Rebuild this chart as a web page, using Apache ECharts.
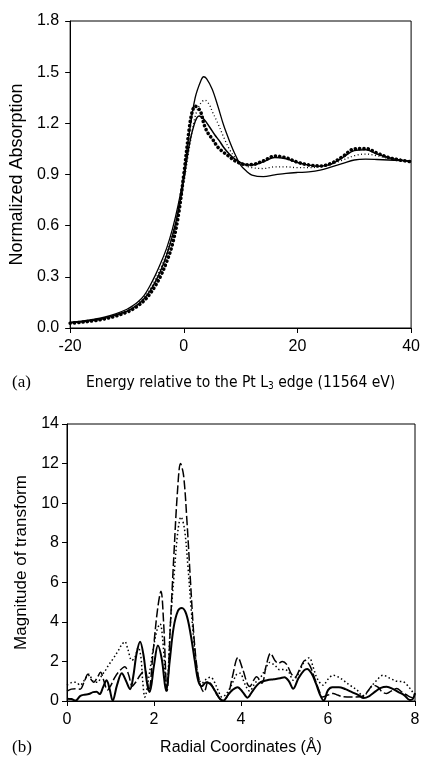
<!DOCTYPE html>
<html>
<head>
<meta charset="utf-8">
<script src="https://cdn.jsdelivr.net/npm/echarts@6/dist/echarts.min.js"></script>
<style>
  html, body { margin: 0; padding: 0; background: #fff; }
  #chart { width: 423px; height: 760px; }
</style>
</head>
<body>
<div id="chart"></div>
<script>
// panel (a): XANES, [energy eV, normalized absorption]
var energyTicks = [-20, 0, 20, 40];
var absTicks = [0, 0.3, 0.6, 0.9, 1.2, 1.5, 1.8];

var xanesSolid = [[-20,0.035],[-18,0.04],[-16,0.05],[-14,0.063],[-12,0.083],[-10,0.11],[-9,0.13],[-8,0.155],
  [-7,0.19],[-6,0.245],[-5,0.31],[-4,0.385],[-3,0.47],[-2,0.58],[-1,0.72],[0,0.90],[1,1.15],[2,1.35],[3,1.45],
  [3.5,1.473],[4,1.462],[5,1.40],[6,1.30],[7,1.19],[8,1.10],[9,1.02],[10,0.955],[11,0.92],[12,0.897],[14,0.888],
  [16,0.898],[18,0.907],[20,0.912],[22,0.915],[24,0.925],[26,0.945],[28,0.965],[30,0.985],[32,0.99],[34,0.988],
  [36,0.985],[38,0.982],[40,0.98]];

var xanesDotted = [[-20,0.03],[-18,0.037],[-16,0.046],[-14,0.058],[-12,0.077],[-10,0.1],[-9,0.12],[-8,0.145],
  [-7,0.178],[-6,0.225],[-5,0.285],[-4,0.355],[-3,0.44],[-2,0.545],[-1,0.68],[0,0.85],[1,1.06],[2,1.24],[3,1.32],
  [3.7,1.336],[4.5,1.31],[5,1.27],[6,1.20],[7,1.12],[8,1.05],[9,1.0],[10,0.97],[11,0.95],[12,0.94],[14,0.935],
  [16,0.945],[18,0.945],[20,0.94],[22,0.94],[24,0.945],[26,0.96],[28,0.985],[30,1.01],[32,1.02],[34,1.01],
  [36,0.995],[38,0.985],[40,0.98]];

var xanesThin = [[-20,0.03],[-18,0.036],[-16,0.045],[-14,0.056],[-12,0.075],[-10,0.098],[-9,0.117],[-8,0.14],
  [-7,0.172],[-6,0.215],[-5,0.272],[-4,0.342],[-3,0.43],[-2,0.54],[-1,0.68],[0,0.87],[1,1.08],[2,1.21],[2.7,1.243],
  [3.5,1.225],[4.5,1.18],[5.5,1.13],[6.2,1.10],[7,1.06],[8,1.02],[9,0.99],[10,0.97],[11,0.958],[12,0.955],
  [14,0.975],[16,1.0],[18,0.992],[20,0.97],[22,0.955],[24,0.948],[26,0.962],[28,1.0],[30,1.04],[32,1.045],
  [34,1.02],[36,1.0],[38,0.985],[40,0.975]];

var xanesDots = [[-20,0.028],[-18,0.034],[-16,0.042],[-14,0.053],[-12,0.07],[-10,0.093],[-9,0.11],[-8,0.132],
  [-7,0.16],[-6,0.198],[-5,0.248],[-4,0.31],[-3,0.39],[-2,0.49],[-1,0.65],[0,0.9],[1,1.18],[1.5,1.27],[2,1.30],
  [2.5,1.29],[3,1.265],[3.6,1.19],[4.3,1.14],[5,1.11],[6,1.06],[7,1.03],[8,1.005],[9,0.98],[10,0.965],[11,0.957],
  [12,0.958],[14,0.98],[16,1.008],[18,0.998],[20,0.972],[22,0.956],[24,0.95],[26,0.966],[28,1.006],[30,1.05],
  [32,1.052],[34,1.026],[36,1.0],[38,0.985],[40,0.975]];

// panel (b): Fourier transform magnitude, [R Å, magnitude]
var radialTicks = [0, 2, 4, 6, 8];
var magTicks = [0, 2, 4, 6, 8, 10, 12, 14];

var ftDashed = [[0,0.5],[0.1,0.6],[0.2,0.62],[0.3,0.6],[0.4,1.0],[0.48,1.35],[0.55,1.1],[0.61,0.95],[0.7,1.2],
  [0.77,1.45],[0.85,1.0],[0.93,0.55],[1.0,0.75],[1.1,1.2],[1.2,1.5],[1.33,1.73],[1.42,1.3],[1.5,0.75],[1.58,0.95],
  [1.68,1.3],[1.79,1.57],[1.88,0.5],[1.98,2.5],[2.08,4.6],[2.16,5.55],[2.22,4.0],[2.3,0.5],[2.38,4.0],[2.46,7.5],
  [2.54,10.6],[2.61,12.0],[2.68,11.4],[2.76,9.0],[2.84,6.0],[2.92,3.2],[3.0,1.5],[3.08,0.7],[3.15,0.45],[3.25,1.0],
  [3.33,0.8],[3.45,0.3],[3.58,0.02],[3.7,0.3],[3.8,1.2],[3.93,2.2],[4.04,1.6],[4.2,0.73],[4.36,1.23],[4.48,0.9],
  [4.58,1.8],[4.68,2.41],[4.78,2.05],[4.86,1.9],[4.95,2.0],[5.05,1.85],[5.15,1.4],[5.24,1.2],[5.35,1.6],[5.47,2.05],
  [5.58,1.8],[5.7,1.1],[5.8,0.5],[5.87,0.2],[6.0,0.3],[6.12,0.38],[6.22,0.3],[6.35,0.21],[6.55,0.2],[6.74,0.21],
  [6.9,0.45],[7.04,0.8],[7.15,0.7],[7.25,0.45],[7.35,0.38],[7.45,0.5],[7.58,0.63],[7.7,0.45],[7.85,0.25],
  [7.97,0.13],[8.0,0.1]];

var ftDotted = [[0,0.8],[0.1,0.93],[0.2,0.95],[0.3,0.8],[0.4,1.05],[0.5,1.35],[0.6,1.0],[0.7,0.95],[0.8,1.3],
  [0.9,1.6],[0.95,1.8],[1.05,2.1],[1.18,2.55],[1.26,2.85],[1.33,3.0],[1.4,2.6],[1.49,2.05],[1.56,2.2],[1.64,2.7],
  [1.7,2.2],[1.74,1.0],[1.79,0.2],[1.88,1.2],[1.98,2.6],[2.07,3.6],[2.14,3.9],[2.2,3.1],[2.29,0.6],[2.38,4.0],
  [2.47,6.6],[2.55,8.6],[2.62,9.3],[2.7,8.7],[2.78,6.8],[2.86,4.5],[2.94,2.5],[3.02,1.2],[3.1,0.9],[3.2,1.1],
  [3.3,1.2],[3.38,1.0],[3.48,0.5],[3.56,0.2],[3.66,0.35],[3.78,0.8],[3.9,1.35],[3.98,1.4],[4.08,0.9],[4.2,0.5],
  [4.32,0.9],[4.45,1.2],[4.56,1.6],[4.66,1.95],[4.78,1.8],[4.89,1.58],[5.0,1.6],[5.1,1.45],[5.2,1.05],[5.3,1.3],
  [5.42,1.85],[5.5,2.1],[5.57,2.19],[5.66,1.7],[5.76,1.1],[5.89,0.8],[6.0,1.1],[6.12,1.3],[6.25,1.2],[6.35,1.05],
  [6.5,0.8],[6.66,0.57],[6.81,0.24],[6.95,0.6],[7.1,1.0],[7.27,1.3],[7.42,1.15],[7.58,1.0],[7.73,0.97],
  [7.86,0.7],[7.97,0.38],[8.0,0.3]];

var ftSolid = [[0,0.12],[0.1,0.1],[0.2,0.02],[0.3,0.25],[0.4,0.32],[0.5,0.35],[0.6,0.45],[0.68,0.47],[0.75,0.35],
  [0.83,0.7],[0.91,1.05],[0.98,0.6],[1.05,0.02],[1.15,0.8],[1.26,1.4],[1.35,1.05],[1.45,0.6],[1.52,1.2],[1.6,2.4],
  [1.68,3.0],[1.76,2.3],[1.84,0.9],[1.9,0.45],[2.0,1.8],[2.09,2.8],[2.18,2.1],[2.28,0.5],[2.36,2.0],[2.45,3.7],
  [2.55,4.55],[2.64,4.7],[2.74,4.4],[2.84,3.4],[2.94,2.0],[3.02,1.0],[3.1,0.75],[3.2,0.95],[3.3,0.85],[3.42,0.45],
  [3.52,0.1],[3.6,0.02],[3.7,0.3],[3.8,0.55],[3.92,0.7],[4.04,0.45],[4.15,0.17],[4.25,0.45],[4.35,0.75],
  [4.45,0.95],[4.6,1.05],[4.75,1.1],[4.9,1.15],[5.0,1.2],[5.1,1.0],[5.2,0.62],[5.32,1.15],[5.45,1.55],[5.52,1.62],
  [5.62,1.4],[5.72,0.9],[5.82,0.3],[5.9,0.02],[6.0,0.55],[6.1,0.7],[6.25,0.7],[6.4,0.6],[6.55,0.45],[6.7,0.3],
  [6.82,0.15],[6.95,0.25],[7.1,0.5],[7.2,0.65],[7.35,0.72],[7.5,0.6],[7.62,0.45],[7.75,0.3],[7.88,0.05],
  [7.95,0.1],[8.0,0.4]];

var FONT = '"Liberation Sans", Arial, sans-serif';
var NARROW = '"Liberation Sans Narrow", "DejaVu Sans Condensed", sans-serif';

function valueAxis(gridIndex, ticks, opts) {
  var ax = {
    type: 'value',
    gridIndex: gridIndex,
    min: ticks[0],
    max: ticks[ticks.length - 1],
    interval: ticks[1] - ticks[0],
    axisLine: { show: true, onZero: false, lineStyle: { color: '#000', width: 1 } },
    axisTick: { show: true, inside: false, length: 5, lineStyle: { color: '#000', width: 1 } },
    splitLine: { show: false },
    axisLabel: { color: '#000', fontSize: 16, fontFamily: FONT, margin: 11 }
  };
  for (var k in opts) ax[k] = opts[k];
  return ax;
}

function line(name, data, xi, width, type, cap) {
  return {
    name: name,
    type: 'line',
    xAxisIndex: xi,
    yAxisIndex: xi,
    data: data,
    smooth: 0.35,
    showSymbol: false,
    symbol: 'none',
    lineStyle: { color: '#000', width: width, type: type, cap: cap || 'butt' },
    emphasis: { disabled: true }
  };
}

var myChart = echarts.init(document.getElementById('chart'));

var option = {
  animation: false,
  backgroundColor: '#fff',
  grid: [
    { left: 65, top: 21, right: 11, height: 307, show: true, borderColor: '#000', borderWidth: 1 },
    { left: 67, top: 424, right: 8, height: 277, show: true, borderColor: '#000', borderWidth: 1 }
  ],
  xAxis: [
    valueAxis(0, energyTicks, {
      name: 'Energy relative to the Pt L{sub|3} edge (11564 eV)',
      nameLocation: 'middle',
      nameGap: 46,
      nameTextStyle: {
        color: '#000', fontSize: 15.5, fontFamily: NARROW,
        rich: { sub: { fontSize: 10, padding: [7, 0, 0, 0], fontFamily: NARROW } }
      }
    }),
    valueAxis(1, radialTicks, {
      name: 'Radial Coordinates (Å)',
      nameLocation: 'middle',
      nameGap: 39,
      nameTextStyle: { color: '#000', fontSize: 16, fontFamily: FONT }
    })
  ],
  yAxis: [
    valueAxis(0, absTicks, {
      name: 'Normalized Absorption',
      nameLocation: 'middle',
      nameGap: 28,
      nameTextStyle: { color: '#000', fontSize: 18, fontFamily: FONT },
      axisLabel: { color: '#000', fontSize: 16, fontFamily: FONT, margin: 11,
        formatter: function (v) { return v.toFixed(1); } }
    }),
    valueAxis(1, magTicks, {
      name: 'Magnitude of transform',
      nameLocation: 'middle',
      nameGap: 24,
      nameTextStyle: { color: '#000', fontSize: 17, fontFamily: FONT },
      axisLabel: { color: '#000', fontSize: 16, fontFamily: FONT, margin: 8 }
    })
  ],
  graphic: [
    { type: 'text', left: 12, top: 374, style: { text: '(a)', fontSize: 17, fontFamily: '"Liberation Serif", serif', fill: '#000' } },
    { type: 'text', left: 12, top: 739, style: { text: '(b)', fontSize: 17, fontFamily: '"Liberation Serif", serif', fill: '#000' } }
  ],
  series: [
    line('solid', xanesSolid, 0, 1.3, 'solid'),
    line('dotted', xanesDotted, 0, 1.3, [1, 2.5]),
    line('thin', xanesThin, 0, 1.5, 'solid'),
    line('dots', xanesDots, 0, 3.6, [0.1, 4.2], 'round'),
    line('ft dashed', ftDashed, 1, 1.5, [9, 3]),
    line('ft dotted', ftDotted, 1, 1.5, [1.5, 2.5]),
    line('ft solid', ftSolid, 1, 2, 'solid')
  ]
};

myChart.setOption(option);
</script>
</body>
</html>
